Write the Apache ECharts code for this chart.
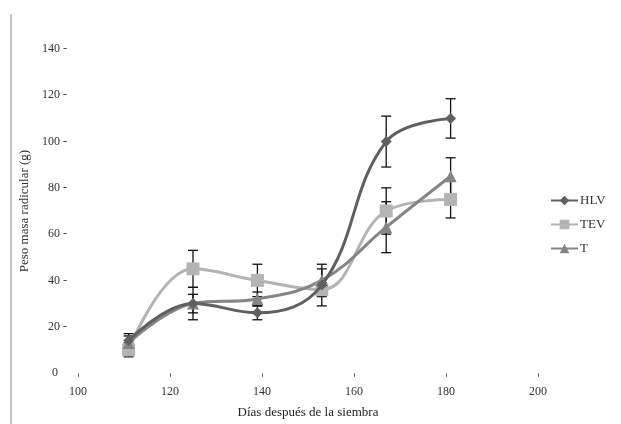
<!DOCTYPE html>
<html>
<head>
<meta charset="utf-8">
<script src="https://cdn.jsdelivr.net/npm/echarts@6/dist/echarts.min.js"></script>
<style>html,body{margin:0;padding:0;background:#fff}#c{width:621px;height:424px}</style>
</head>
<body>
<div id="c"></div>
<script>
var days = [111, 125, 139, 153, 167, 181];
var hlv = [14, 30, 26, 38, 100, 110];
var tev = [10, 45, 40, 36, 70, 75];
var tt  = [13, 30, 32, 40, 63, 85];
var hlvErr = [3, 4, 3, 9, 11, 8.5];
var tevErr = [3, 8, 7, 3, 10, 8];
var tErr   = [3, 7, 3, 5, 11, 8];
var xTicks = [100, 120, 140, 160, 180, 200];
var yTicks = [0, 20, 40, 60, 80, 100, 120, 140];

var chart = echarts.init(document.getElementById('c'));
function pairs(v){ return days.map(function(d,i){ return [d, v[i]]; }); }
function errData(v, e){ return days.map(function(d,i){ return [d, v[i]-e[i], v[i]+e[i]]; }); }
function errSeries(v, e){
  return {
    type: 'custom', silent: true, z: 1,
    data: errData(v, e),
    renderItem: function(params, api){
      var lo = api.coord([api.value(0), api.value(1)]);
      var hi = api.coord([api.value(0), api.value(2)]);
      var w = 5;
      var st = {stroke: '#111', lineWidth: 1.3};
      return {type: 'group', children: [
        {type: 'line', shape: {x1: lo[0], y1: lo[1], x2: hi[0], y2: hi[1]}, style: st},
        {type: 'line', shape: {x1: hi[0]-w, y1: hi[1], x2: hi[0]+w, y2: hi[1]}, style: st},
        {type: 'line', shape: {x1: lo[0]-w, y1: lo[1], x2: lo[0]+w, y2: lo[1]}, style: st}
      ]};
    }
  };
}
var font = 'Liberation Serif';
chart.setOption({
  animation: false,
  backgroundColor: '#fff',
  graphic: [{type: 'line', shape: {x1: 11, y1: 14, x2: 11, y2: 424}, style: {stroke: '#888', lineWidth: 1}}],
  grid: {left: 78, right: 83, top: 49, bottom: 48},
  legend: {
    orient: 'vertical', left: 545, top: 189, itemGap: 11, itemWidth: 27, itemHeight: 12,
    data: ['HLV', 'TEV', 'T'],
    textStyle: {fontFamily: font, fontSize: 13, color: '#333', padding: [0,0,0,-3]}
  },
  xAxis: {
    type: 'value', min: xTicks[0], max: xTicks[xTicks.length-1], interval: 20,
    name: 'Días después de la siembra', nameLocation: 'middle', nameGap: 33,
    nameTextStyle: {fontFamily: font, fontSize: 13, color: '#222'},
    axisLine: {show: false},
    axisTick: {show: true, inside: false, length: 4, lineStyle: {color: '#777'}},
    axisLabel: {fontFamily: font, fontSize: 12, color: '#333', margin: 13},
    splitLine: {show: false}
  },
  yAxis: {
    type: 'value', min: yTicks[0], max: yTicks[yTicks.length-1], interval: 20,
    name: 'Peso masa radicular (g)', nameLocation: 'middle', nameGap: 30,
    nameTextStyle: {fontFamily: font, fontSize: 13, color: '#333'},
    axisLine: {show: false},
    axisTick: {show: false},
    axisLabel: {fontFamily: font, fontSize: 12, color: '#333', margin: 11,
      formatter: function(v){ return v === 0 ? v + '   ' : v + ' -'; }},
    splitLine: {show: false}
  },
  series: [
    errSeries(hlv, hlvErr),
    errSeries(tev, tevErr),
    errSeries(tt, tErr),
    {name: 'HLV', type: 'line', smooth: 0.4, data: pairs(hlv), z: 4,
     symbol: 'diamond', symbolSize: 11,
     lineStyle: {color: '#606060', width: 3}, itemStyle: {color: '#606060'}},
    {name: 'TEV', type: 'line', smooth: 0.4, data: pairs(tev), z: 3,
     symbol: 'rect', symbolSize: 13,
     lineStyle: {color: '#b4b4b4', width: 3}, itemStyle: {color: '#b4b4b4'}},
    {name: 'T', type: 'line', smooth: 0.4, data: pairs(tt), z: 3,
     symbol: 'triangle', symbolSize: 12,
     lineStyle: {color: '#858585', width: 3}, itemStyle: {color: '#858585'}}
  ]
});
</script>
</body>
</html>
